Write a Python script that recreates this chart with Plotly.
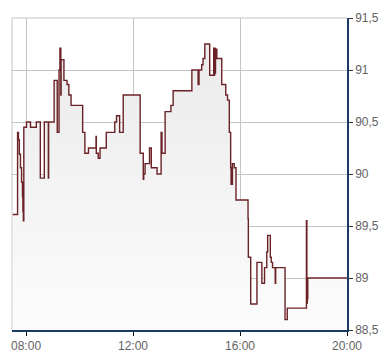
import plotly.graph_objects as go

DAY = "2024-01-02 "

times = ["07:30", "07:41", "07:43", "07:45", "07:47:30", "07:50", "07:52", "07:53", "07:54", "07:55",
         "08:01", "08:10", "08:23", "08:32", "08:41", "08:50", "08:50:40", "09:03", "09:10", "09:14",
         "09:16", "09:18", "09:18:40", "09:25", "09:32", "09:36", "09:41", "10:07", "10:12", "10:20",
         "10:37", "10:37:40", "10:42", "10:46", "11:00", "11:19", "11:23", "11:30", "11:38", "12:16",
         "12:23", "12:24", "12:27", "12:37", "12:41", "12:54", "13:03", "13:04", "13:04:30", "13:05",
         "13:12", "13:25", "13:30", "14:12", "14:26", "14:27", "14:27:30", "14:28", "14:34", "14:37",
         "14:41", "14:52", "15:01", "15:02", "15:03", "15:04", "15:05", "15:08", "15:19", "15:28",
         "15:32", "15:36", "15:39", "15:40", "15:41", "15:42", "15:43", "15:47", "15:51", "16:18",
         "16:18:40", "16:24", "16:38", "16:49", "16:55", "17:00", "17:02", "17:08", "17:10", "17:13",
         "17:19", "17:20", "17:41", "17:46", "18:29", "18:30", "18:31", "18:31:30", "18:32", "20:00"]

prices = [89.61, 90.40, 90.33, 90.19, 90.06, 89.92, 89.78, 89.64, 89.55, 90.45,
          90.50, 90.45, 90.50, 89.96, 90.50, 89.96, 90.50, 90.90, 90.40, 91.00,
          91.21, 90.76, 91.10, 90.90, 90.86, 90.76, 90.66, 90.40, 90.20, 90.25,
          90.36, 90.20, 90.15, 90.25, 90.40, 90.50, 90.56, 90.40, 90.76, 90.20,
          89.95, 90.00, 90.10, 90.25, 90.06, 90.00, 90.40, 90.20, 90.40, 90.20,
          90.60, 90.66, 90.80, 91.00, 90.86, 91.00, 90.86, 91.00, 91.05, 91.11,
          91.25, 90.95, 91.21, 90.95, 91.21, 90.97, 91.20, 91.11, 90.86, 90.76,
          90.71, 90.40, 90.06, 89.90, 90.06, 89.90, 90.10, 90.06, 89.75, 89.57,
          89.20, 88.75, 89.15, 88.95, 89.10, 89.25, 89.41, 89.20, 89.15, 89.10,
          88.95, 89.10, 88.60, 88.71, 89.55, 88.76, 89.00, 88.80, 89.00, 89.00]

y_ticks = [88.5, 89.0, 89.5, 90.0, 90.5, 91.0, 91.5]
y_tick_labels = ["88,5", "89", "89,5", "90", "90,5", "91", "91,5"]
x_ticks = ["08:00", "12:00", "16:00", "20:00"]
x_range = ["07:28:30", "20:00"]

LINE = "#6b2226"
AXIS = "#1b3a66"
GRID = "#c4c4c4"
TXT = "#636363"

fig = go.Figure()
fig.add_trace(go.Scatter(
    x=[DAY + t for t in times], y=prices,
    mode="lines", line=dict(color=LINE, width=1.4, shape="hv"),
    fill="tozeroy",
    fillgradient=dict(type="vertical", colorscale=[[0, "#fdfdfd"], [1, "#e9e9e9"]],
                      start=88.5, stop=91.5),
    hoverinfo="skip", showlegend=False,
))

fig.update_layout(
    width=390, height=364,
    margin=dict(l=12, r=38, t=11, b=24),
    paper_bgcolor="white", plot_bgcolor="white",
    font=dict(family="Liberation Sans, Arial, sans-serif", size=12, color=TXT),
    xaxis=dict(
        type="date", range=[DAY + x_range[0], DAY + x_range[1]],
        tickvals=[DAY + t for t in x_ticks], ticktext=x_ticks,
        showgrid=True, gridcolor=GRID, gridwidth=1,
        showline=True, linecolor=AXIS, linewidth=1.5,
        ticks="outside", ticklen=4, tickcolor="#111111", tickwidth=1,
        zeroline=False, fixedrange=True,
    ),
    yaxis=dict(
        side="right", range=[88.5, 91.5],
        tickvals=y_ticks, ticktext=y_tick_labels,
        showgrid=True, gridcolor=GRID, gridwidth=1,
        showline=True, linecolor=AXIS, linewidth=1.5,
        ticks="outside", ticklen=4, tickcolor="#333333", tickwidth=1,
        zeroline=False, fixedrange=True,
    ),
    shapes=[
        dict(type="line", xref="paper", yref="paper", x0=0, x1=0, y0=0, y1=1,
             line=dict(color=GRID, width=1), layer="below"),
        dict(type="line", xref="paper", yref="paper", x0=0, x1=1, y0=1, y1=1,
             line=dict(color=GRID, width=1), layer="below"),
    ],
)

fig.write_html("out.html")
